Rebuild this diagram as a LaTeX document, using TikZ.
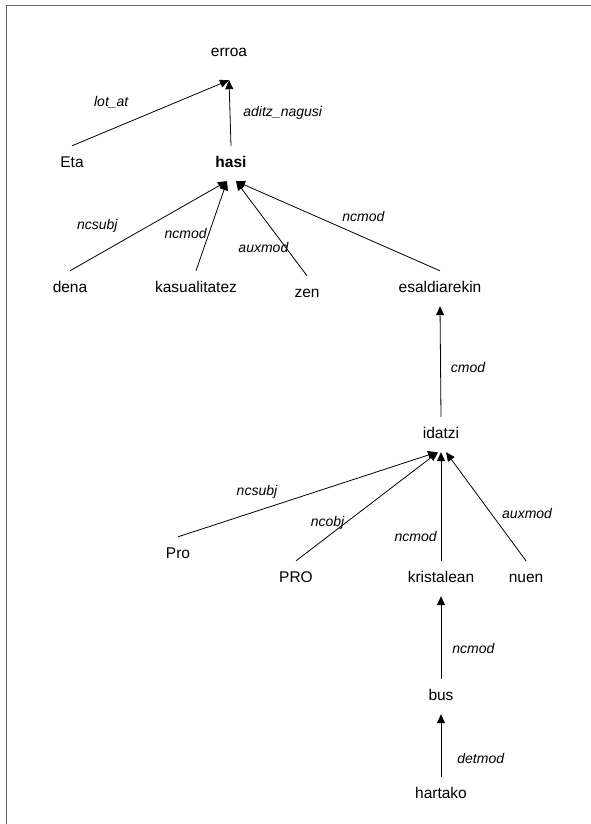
\documentclass[tikz,border=0pt]{standalone}
\usepackage{fontspec}
\setmainfont{Liberation Sans}
\usetikzlibrary{arrows.meta}
\tikzstyle{word} = [anchor=base, inner xsep=1pt, inner ysep=11pt,
   text height=10pt, text depth=3pt, font=\fontsize{15.5}{18}\selectfont]
\tikzstyle{depArrow} = [line width=0.8pt, -{Triangle[length=9pt,width=8pt]}]
\tikzstyle{relLabel} = [inner sep=1pt, font=\fontsize{14}{16}\selectfont\itshape]
\begin{document}
\begin{tikzpicture}[x=1pt,y=-1pt]
	  \useasboundingbox (0,0) rectangle (591,824);
	  \draw[line width=1.5pt, black!60] (591,5.5) -- (6.5,5.5) -- (6.5,824);

	  \node[word, text depth=12pt] (erroa) at (229,57) {erroa};
	  \node[word] (eta) at (72,167) {Eta};
	  \node[word, font=\fontsize{15.5}{18}\selectfont\bfseries] (hasi) at (231,167) {hasi};
	  \node[word] (dena) at (70,292) {dena};
	  \node[word] (kasu) at (196,292) {kasualitatez};
	  \node[word] (zen) at (307,297) {zen};
	  \node[word] (esal) at (440,292) {esaldiarekin};
	  \node[word] (idatzi) at (441,438) {idatzi};
	  \node[word] (pro) at (178,558) {Pro};
	  \node[word] (PRO) at (296,582) {PRO};
	  \node[word] (krist) at (441,582) {kristalean};
	  \node[word] (nuen) at (526,582) {nuen};
	  \node[word] (bus) at (441,700) {bus};
	  \node[word] (hartako) at (441,798) {hartako};

	  % upper tree
	  \draw[depArrow] (eta.north) -- node[relLabel, pos=.25, above=20pt] (l1) {lot\_at} (erroa.south);
	  \draw[depArrow] (hasi.north) -- node[relLabel, midway, right=12pt] (l2) {aditz\_nagusi} (erroa.south);
	  \draw[depArrow] (dena.north) -- node[relLabel, pos=.35, above left=6pt] (l3) {ncsubj} ([xshift=-4pt]hasi.south);
	  \draw[depArrow] (kasu.north) -- node[relLabel, pos=.42, left=1pt] (l4) {ncmod} ([xshift=-4pt]hasi.south);
	  \draw[depArrow] (zen.north) -- node[relLabel, pos=.3, left=-4pt] (l5) {auxmod} ([xshift=5pt]hasi.south);
	  \draw[depArrow] (esal.north) -- node[relLabel, pos=.5, above right=3pt] (l6) {ncmod} ([xshift=5pt]hasi.south);
	  \draw[depArrow] (idatzi.north) -- node[relLabel, pos=.45, right=9pt] (l7) {cmod} (esal.south);

	  % lower tree
	  \draw[depArrow] (pro.north) -- node[relLabel, pos=.4, above left=3pt] (l8) {ncsubj} ([xshift=-4pt]idatzi.south);
	  \draw[depArrow] (PRO.north) -- node[relLabel, pos=.35, left] (l9) {ncobj} ([xshift=-3pt]idatzi.south);
	  \draw[depArrow] (krist.north) -- node[relLabel, pos=.22, left=3pt] (l10) {ncmod} (idatzi.south);
	  \draw[depArrow] (nuen.north) -- node[relLabel, pos=.44, right=10pt] (l11) {auxmod} ([xshift=5pt]idatzi.south);
	  \draw[depArrow] (bus.north) -- node[relLabel, pos=.37, right=10pt] (l12) {ncmod} (krist.south);
	  \draw[depArrow] (hartako.north) -- node[relLabel, pos=.29, right=15pt] (l13) {detmod} (bus.south);
	\end{tikzpicture}
\end{document}
